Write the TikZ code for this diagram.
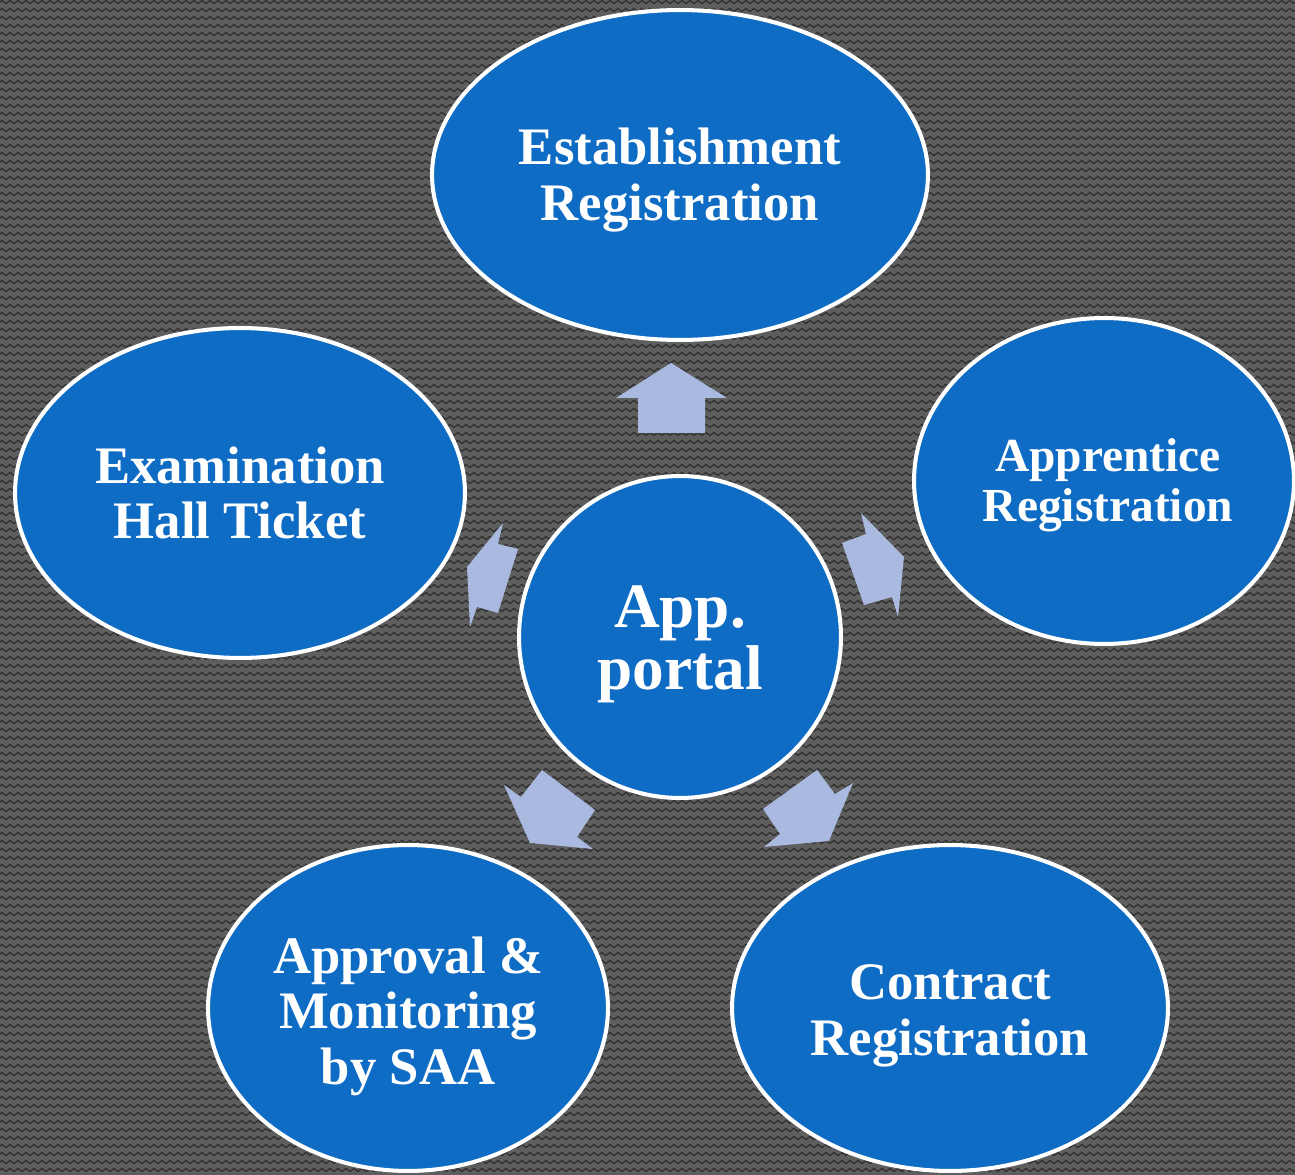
\documentclass[tikz,border=0pt]{standalone}
\usepackage{fontspec}
\setmainfont{Liberation Serif}
\usetikzlibrary{shapes.geometric,decorations.pathmorphing}
\definecolor{bggray}{HTML}{5E5E5E}
\definecolor{zigline}{HTML}{2F2F2F}
\definecolor{bubblefill}{HTML}{0F6CC4}
\definecolor{arrowfill}{HTML}{AAB9E0}
\begin{document}
\begin{tikzpicture}[x=0.02cm,y=-0.02cm,
  bubble/.style={ellipse, draw=white, line width=2.3pt, fill=bubblefill,
    inner sep=0pt},
  btext/.style={text=white, align=center, inner sep=0pt,
    font=\bfseries\fontsize{30}{31.6}\selectfont},
  blockarrow/.style={fill=arrowfill, draw=none},
  zig/.style={draw=zigline, line width=0.7pt, decorate,
    decoration={zigzag, segment length=0.16cm, amplitude=0.03cm}}]

% textured background
\useasboundingbox (0,0) rectangle (1295,1175);
\begin{scope}
  \clip (0,0) rectangle (1295,1175);
  \fill[bggray] (-10,-10) rectangle (1305,1185);
  \foreach \yy in {2,10,...,1180}
    \draw[zig] (-8,\yy) -- (1304,\yy);
\end{scope}

% block arrows around the hub
\fill[blockarrow] (671,363) -- (727,398) -- (705,398) -- (705,433)
  -- (638,433) -- (638,398) -- (616,398) -- cycle;
\fill[blockarrow] (861,513) -- (866,534) -- (842,543) -- (864,605)
  -- (892,597) -- (898,617) -- (904,557) -- cycle;
\fill[blockarrow] (503,523) -- (498,544) -- (518,549) -- (498,613)
  -- (477,607) -- (470,627) -- (467,567) -- cycle;
\fill[blockarrow] (504,785) -- (521,797) -- (542,770) -- (595,810)
  -- (577,837) -- (593,849) -- (530,843) -- cycle;
\fill[blockarrow] (817,770) -- (835,794) -- (853,783) -- (829,841)
  -- (764,847) -- (780,834) -- (763,809) -- cycle;

% hub and surrounding ellipses
\node[bubble, minimum width=6.44cm, minimum height=6.44cm] (hub) at (680,637) {};
\node[bubble, minimum width=9.92cm, minimum height=6.6cm] (estab) at (680,175) {};
\node[bubble, minimum width=7.6cm, minimum height=6.52cm] (appr) at (1104,481) {};
\node[bubble, minimum width=9.0cm, minimum height=6.6cm] (exam) at (240,493) {};
\node[bubble, minimum width=8.0cm, minimum height=6.52cm] (saa) at (408,1008) {};
\node[bubble, minimum width=8.72cm, minimum height=6.52cm] (contract) at (950,1008) {};

% labels
\node[btext, font=\bfseries\fontsize{36}{35.3}\selectfont, yshift=-0.14cm]
  (hub-t) at (hub) {App.\\portal};
\node[btext, yshift=-0.1cm] (estab-t) at (estab) {Establishment\\Registration};
\node[btext, font=\bfseries\fontsize{27}{28.3}\selectfont, xshift=0.08cm, yshift=-0.08cm]
  (appr-t) at (appr) {Apprentice\\Registration};
\node[btext] (exam-t) at (exam) {Examination\\Hall Ticket};
\node[btext, yshift=-0.16cm] (saa-t) at (saa) {Approval \&\\Monitoring\\by SAA};
\node[btext, yshift=-0.16cm] (contract-t) at (contract) {Contract\\Registration};
\end{tikzpicture}
\end{document}
